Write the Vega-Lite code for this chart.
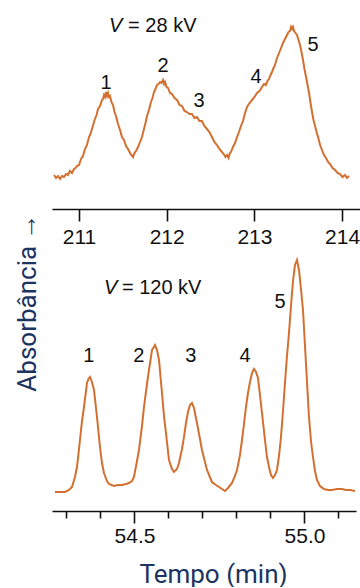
{
  "$schema": "https://vega.github.io/schema/vega-lite/v6.json",
  "padding": {"left": 13, "top": 0, "right": 0, "bottom": 0},
  "background": "white",
  "config": {
    "view": {"stroke": null},
    "axis": {
      "grid": false,
      "domainColor": "#111111",
      "domainWidth": 1.6,
      "tickColor": "#111111",
      "tickWidth": 1.6,
      "labelFont": "Liberation Sans",
      "labelFontSize": 21,
      "labelColor": "#111111",
      "titleFontWeight": "normal"
    }
  },
  "datasets": {
    "top": [
      {"t":210.715,"a":34},{"t":210.738,"a":31},{"t":210.761,"a":33},{"t":210.784,"a":30},{"t":210.806,"a":33},{"t":210.829,"a":32},{"t":210.852,"a":35},{"t":210.874,"a":34},{"t":210.897,"a":38},{"t":210.920,"a":36},{"t":210.943,"a":40},{"t":210.960,"a":41},{"t":210.977,"a":43},{"t":211.000,"a":44},{"t":211.023,"a":50},{"t":211.045,"a":53},{"t":211.068,"a":60},{"t":211.091,"a":64},{"t":211.114,"a":72},{"t":211.131,"a":75},{"t":211.148,"a":80},{"t":211.165,"a":85},{"t":211.182,"a":90},{"t":211.200,"a":94},{"t":211.217,"a":100},{"t":211.240,"a":103},{"t":211.262,"a":109},{"t":211.274,"a":110},{"t":211.285,"a":114},{"t":211.297,"a":112},{"t":211.308,"a":117},{"t":211.320,"a":113},{"t":211.331,"a":116},{"t":211.342,"a":112},{"t":211.353,"a":113},{"t":211.370,"a":107},{"t":211.388,"a":104},{"t":211.405,"a":97},{"t":211.422,"a":93},{"t":211.445,"a":85},{"t":211.468,"a":79},{"t":211.490,"a":72},{"t":211.513,"a":69},{"t":211.536,"a":63},{"t":211.559,"a":60},{"t":211.587,"a":55},{"t":211.616,"a":52},{"t":211.633,"a":56},{"t":211.650,"a":58},{"t":211.673,"a":62},{"t":211.696,"a":67},{"t":211.718,"a":72},{"t":211.741,"a":80},{"t":211.758,"a":86},{"t":211.775,"a":93},{"t":211.798,"a":99},{"t":211.821,"a":107},{"t":211.838,"a":111},{"t":211.855,"a":117},{"t":211.872,"a":120},{"t":211.889,"a":124},{"t":211.906,"a":125},{"t":211.924,"a":127},{"t":211.941,"a":126},{"t":211.958,"a":129},{"t":211.970,"a":125},{"t":211.981,"a":127},{"t":211.998,"a":122},{"t":212.015,"a":121},{"t":212.038,"a":116},{"t":212.061,"a":115},{"t":212.090,"a":111},{"t":212.118,"a":109},{"t":212.147,"a":104},{"t":212.175,"a":103},{"t":212.203,"a":98},{"t":212.231,"a":97},{"t":212.260,"a":95},{"t":212.288,"a":95},{"t":212.316,"a":91},{"t":212.345,"a":92},{"t":212.373,"a":88},{"t":212.402,"a":88},{"t":212.430,"a":83},{"t":212.459,"a":80},{"t":212.487,"a":77},{"t":212.516,"a":72},{"t":212.544,"a":67},{"t":212.573,"a":64},{"t":212.601,"a":60},{"t":212.630,"a":57},{"t":212.650,"a":55},{"t":212.670,"a":52},{"t":212.688,"a":54},{"t":212.705,"a":51},{"t":212.720,"a":56},{"t":212.733,"a":57},{"t":212.756,"a":62},{"t":212.779,"a":66},{"t":212.802,"a":72},{"t":212.824,"a":77},{"t":212.847,"a":83},{"t":212.870,"a":88},{"t":212.893,"a":96},{"t":212.916,"a":102},{"t":212.945,"a":106},{"t":212.973,"a":109},{"t":213.001,"a":112},{"t":213.030,"a":116},{"t":213.058,"a":118},{"t":213.087,"a":122},{"t":213.110,"a":125},{"t":213.132,"a":124},{"t":213.149,"a":128},{"t":213.166,"a":130},{"t":213.184,"a":134},{"t":213.201,"a":137},{"t":213.218,"a":141},{"t":213.235,"a":144},{"t":213.258,"a":151},{"t":213.281,"a":156},{"t":213.304,"a":161},{"t":213.326,"a":166},{"t":213.349,"a":170},{"t":213.372,"a":174},{"t":213.389,"a":177},{"t":213.406,"a":178},{"t":213.418,"a":182},{"t":213.429,"a":180},{"t":213.440,"a":182},{"t":213.452,"a":178},{"t":213.469,"a":176},{"t":213.486,"a":174},{"t":213.503,"a":169},{"t":213.520,"a":164},{"t":213.537,"a":157},{"t":213.554,"a":149},{"t":213.571,"a":140},{"t":213.589,"a":132},{"t":213.606,"a":124},{"t":213.623,"a":116},{"t":213.640,"a":106},{"t":213.657,"a":97},{"t":213.674,"a":89},{"t":213.692,"a":83},{"t":213.709,"a":77},{"t":213.726,"a":72},{"t":213.749,"a":64},{"t":213.771,"a":59},{"t":213.794,"a":54},{"t":213.817,"a":51},{"t":213.840,"a":47},{"t":213.863,"a":45},{"t":213.891,"a":41},{"t":213.920,"a":39},{"t":213.948,"a":36},{"t":213.977,"a":35},{"t":214.005,"a":32},{"t":214.034,"a":34},{"t":214.056,"a":31},{"t":214.079,"a":33}
    ],
    "bottom": [
      {"t":54.2662,"a":19},{"t":54.2809,"a":19},{"t":54.2956,"a":19},{"t":54.3074,"a":21},{"t":54.3162,"a":24},{"t":54.3250,"a":34},{"t":54.3309,"a":44},{"t":54.3397,"a":71},{"t":54.3456,"a":90},{"t":54.3515,"a":104},{"t":54.3603,"a":128},{"t":54.3647,"a":132},{"t":54.3691,"a":134},{"t":54.3750,"a":129},{"t":54.3809,"a":121},{"t":54.3897,"a":94},{"t":54.3985,"a":64},{"t":54.4044,"a":48},{"t":54.4103,"a":38},{"t":54.4191,"a":30},{"t":54.4250,"a":27},{"t":54.4397,"a":25},{"t":54.4515,"a":26},{"t":54.4632,"a":26},{"t":54.4750,"a":27},{"t":54.4838,"a":28},{"t":54.4926,"a":30},{"t":54.4985,"a":34},{"t":54.5074,"a":50},{"t":54.5132,"a":61},{"t":54.5221,"a":85},{"t":54.5279,"a":104},{"t":54.5368,"a":127},{"t":54.5426,"a":141},{"t":54.5515,"a":161},{"t":54.5603,"a":166},{"t":54.5662,"a":161},{"t":54.5721,"a":151},{"t":54.5809,"a":118},{"t":54.5868,"a":95},{"t":54.5926,"a":78},{"t":54.6015,"a":51},{"t":54.6103,"a":42},{"t":54.6162,"a":39},{"t":54.6250,"a":42},{"t":54.6309,"a":48},{"t":54.6397,"a":62},{"t":54.6456,"a":74},{"t":54.6515,"a":88},{"t":54.6574,"a":99},{"t":54.6632,"a":106},{"t":54.6691,"a":108},{"t":54.6750,"a":103},{"t":54.6838,"a":88},{"t":54.6926,"a":72},{"t":54.6985,"a":61},{"t":54.7132,"a":41},{"t":54.7279,"a":29},{"t":54.7397,"a":26},{"t":54.7485,"a":24},{"t":54.7574,"a":22},{"t":54.7662,"a":20},{"t":54.7750,"a":23},{"t":54.7868,"a":28},{"t":54.7956,"a":35},{"t":54.8015,"a":41},{"t":54.8103,"a":56},{"t":54.8162,"a":71},{"t":54.8221,"a":87},{"t":54.8279,"a":104},{"t":54.8338,"a":118},{"t":54.8397,"a":129},{"t":54.8456,"a":138},{"t":54.8515,"a":142},{"t":54.8574,"a":139},{"t":54.8632,"a":133},{"t":54.8691,"a":116},{"t":54.8750,"a":98},{"t":54.8838,"a":71},{"t":54.8897,"a":54},{"t":54.8956,"a":44},{"t":54.9015,"a":36},{"t":54.9074,"a":33},{"t":54.9132,"a":36},{"t":54.9191,"a":41},{"t":54.9250,"a":55},{"t":54.9309,"a":74},{"t":54.9368,"a":100},{"t":54.9426,"a":128},{"t":54.9485,"a":155},{"t":54.9544,"a":178},{"t":54.9603,"a":205},{"t":54.9662,"a":230},{"t":54.9721,"a":246},{"t":54.9779,"a":251},{"t":54.9838,"a":241},{"t":54.9897,"a":222},{"t":54.9956,"a":201},{"t":55.0015,"a":165},{"t":55.0074,"a":129},{"t":55.0132,"a":94},{"t":55.0191,"a":70},{"t":55.0250,"a":54},{"t":55.0309,"a":40},{"t":55.0368,"a":31},{"t":55.0456,"a":25},{"t":55.0574,"a":22},{"t":55.0691,"a":21},{"t":55.0809,"a":21},{"t":55.0956,"a":22},{"t":55.1103,"a":22},{"t":55.1221,"a":21},{"t":55.1338,"a":21},{"t":55.1485,"a":20}
    ],
    "topLabels": [
      {"t":211.308,"a":126,"label":"1","kind":"peak"},
      {"t":211.958,"a":143,"label":"2","kind":"peak"},
      {"t":212.368,"a":108,"label":"3","kind":"peak"},
      {"t":213.018,"a":132,"label":"4","kind":"peak"},
      {"t":213.668,"a":164,"label":"5","kind":"peak"},
      {"t":211.342,"a":183,"label":"V","kind":"var"},
      {"t":211.560,"a":183,"label":"= 28 kV","kind":"eq"}
    ],
    "bottomLabels": [
      {"t":54.366,"a":155,"label":"1","kind":"peak"},
      {"t":54.513,"a":155,"label":"2","kind":"peak"},
      {"t":54.666,"a":155,"label":"3","kind":"peak"},
      {"t":54.825,"a":155,"label":"4","kind":"peak"},
      {"t":54.928,"a":209,"label":"5","kind":"peak"},
      {"t":54.410,"a":223,"label":"V","kind":"var"},
      {"t":54.463,"a":223,"label":"= 120 kV","kind":"eq"}
    ]
  },
  "spacing": 41,
  "bounds": "flush",
  "vconcat": [
    {
      "width": 310,
      "height": 209,
      "encoding": {
        "x": {"field": "t", "type": "quantitative",
          "scale": {"domain": [210.6921, 214.2269], "nice": false, "zero": false},
          "axis": {"values": [211, 212, 213, 214], "format": "d", "tickSize": 12, "labelPadding": 5, "title": null}},
        "y": {"field": "a", "type": "quantitative",
          "scale": {"domain": [0, 209], "nice": false, "zero": false},
          "axis": null}
      },
      "layer": [
        {"data": {"name": "top"}, "mark": {"type": "line", "color": "#d4702f", "strokeWidth": 2}},
        {"data": {"name": "topLabels"}, "transform": [{"filter": "datum.kind == 'peak'"}],
          "mark": {"type": "text", "font": "Liberation Sans", "fontSize": 20, "color": "#111111", "baseline": "middle", "align": "center"},
          "encoding": {"text": {"field": "label"}}},
        {"data": {"name": "topLabels"}, "transform": [{"filter": "datum.kind == 'var'"}],
          "mark": {"type": "text", "font": "Liberation Sans", "fontSize": 20, "fontStyle": "italic", "color": "#111111", "baseline": "middle", "align": "left"},
          "encoding": {"text": {"field": "label"}}},
        {"data": {"name": "topLabels"}, "transform": [{"filter": "datum.kind == 'eq'"}],
          "mark": {"type": "text", "font": "Liberation Sans", "fontSize": 20, "color": "#111111", "baseline": "middle", "align": "left"},
          "encoding": {"text": {"field": "label"}}}
      ]
    },
    {
      "width": 304,
      "height": 261,
      "encoding": {
        "x": {"field": "t", "type": "quantitative",
          "scale": {"domain": [54.2574, 55.1515], "nice": false, "zero": false},
          "axis": {"values": [54.3, 54.4, 54.5, 54.6, 54.7, 54.8, 54.9, 55.0, 55.1], "format": ".1f",
            "labelExpr": "(abs(datum.value - 54.5) < 0.001 || abs(datum.value - 55) < 0.001) ? datum.label : ''",
            "tickSize": {"condition": {"test": "abs(datum.value - 54.5) < 0.001 || abs(datum.value - 55) < 0.001", "value": 12}, "value": 7},
            "labelPadding": 2,
            "title": "Tempo (min)", "titleFont": "Roboto", "titleFontSize": 26, "titleColor": "#1c3461",
            "titlePadding": 15, "titleX": 161}},
        "y": {"field": "a", "type": "quantitative",
          "scale": {"domain": [0, 261], "nice": false, "zero": false},
          "axis": {"domain": false, "ticks": false, "labels": false, "title": "Absorbância →",
            "titleFont": "Roboto", "titleFontSize": 26, "titleColor": "#1c3461",
            "titleX": -17, "titleY": 52, "titleBaseline": "alphabetic", "titleAngle": -90}}
      },
      "layer": [
        {"data": {"name": "bottom"}, "mark": {"type": "line", "color": "#d4702f", "strokeWidth": 2}},
        {"data": {"name": "bottomLabels"}, "transform": [{"filter": "datum.kind == 'peak'"}],
          "mark": {"type": "text", "font": "Liberation Sans", "fontSize": 20, "color": "#111111", "baseline": "middle", "align": "center"},
          "encoding": {"text": {"field": "label"}}},
        {"data": {"name": "bottomLabels"}, "transform": [{"filter": "datum.kind == 'var'"}],
          "mark": {"type": "text", "font": "Liberation Sans", "fontSize": 20, "fontStyle": "italic", "color": "#111111", "baseline": "middle", "align": "left"},
          "encoding": {"text": {"field": "label"}}},
        {"data": {"name": "bottomLabels"}, "transform": [{"filter": "datum.kind == 'eq'"}],
          "mark": {"type": "text", "font": "Liberation Sans", "fontSize": 20, "color": "#111111", "baseline": "middle", "align": "left"},
          "encoding": {"text": {"field": "label"}}}
      ]
    }
  ]
}
